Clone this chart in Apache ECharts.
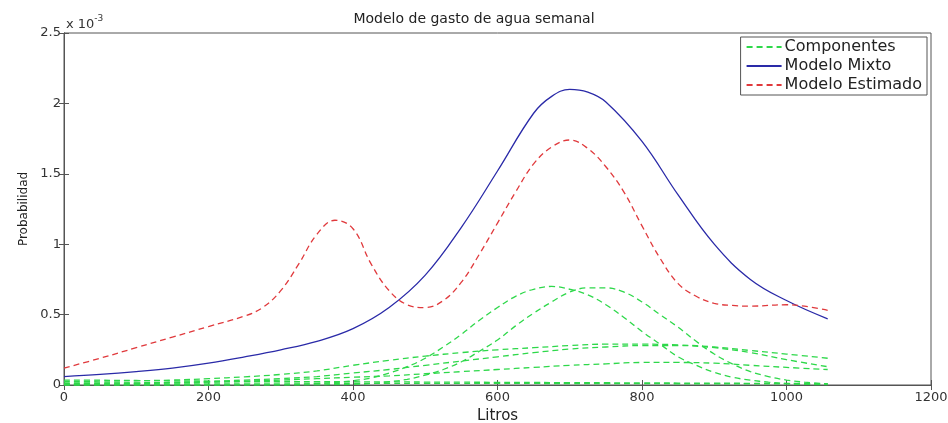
<!DOCTYPE html>
<html lang="es">
<head>
    <meta charset="UTF-8">
    <title>Modelo de gasto de agua semanal</title>
    <script src="https://cdn.jsdelivr.net/npm/echarts@6.0.0/dist/echarts.min.js"></script>
    <style>
        html, body { margin: 0; padding: 0; background: #fff; }
    </style>
</head>
<body>
    <div id="main" style="width: 948px;height:423px;"></div>
    <script>
        // valores en unidades de 10^-3
        const xTicks = [0, 200, 400, 600, 800, 1000, 1200];
        const yTicks = [0, 0.5, 1, 1.5, 2, 2.5];

        // componentes anchas (eje x comun)
        const xComp = [0, 50, 100, 150, 200, 250, 300, 350, 400, 450, 500, 550, 600, 650, 700, 750, 800, 850, 900, 950, 1000, 1057];
        const compC = [0.025, 0.027, 0.03, 0.035, 0.045, 0.058, 0.075, 0.10, 0.14, 0.175, 0.205, 0.23, 0.25, 0.265, 0.28, 0.29, 0.29, 0.285, 0.27, 0.245, 0.22, 0.19];
        const compD = [0.01, 0.012, 0.015, 0.02, 0.025, 0.035, 0.045, 0.06, 0.085, 0.11, 0.14, 0.17, 0.20, 0.23, 0.255, 0.27, 0.28, 0.28, 0.265, 0.23, 0.18, 0.13];
        const compE = [0.005, 0.007, 0.01, 0.015, 0.02, 0.027, 0.035, 0.045, 0.055, 0.065, 0.08, 0.095, 0.11, 0.125, 0.14, 0.15, 0.16, 0.16, 0.155, 0.14, 0.125, 0.11];
        const compF = [0.035, 0.034, 0.032, 0.03, 0.028, 0.026, 0.025, 0.024, 0.023, 0.022, 0.021, 0.02, 0.019, 0.018, 0.017, 0.016, 0.015, 0.014, 0.013, 0.012, 0.011, 0.01];
        const compG = [0.015, 0.015, 0.014, 0.014, 0.014, 0.013, 0.013, 0.013, 0.012, 0.012, 0.012, 0.011, 0.011, 0.011, 0.010, 0.010, 0.010, 0.009, 0.009, 0.009, 0.008, 0.008];

        // componentes con pico (eje x mas fino)
        const xPico = [0, 200, 300, 350, 400, 425, 450, 475, 500, 525, 550, 575, 600, 625, 650, 675, 700, 725, 750, 775, 800, 825, 850, 875, 900, 925, 950, 975, 1000, 1025, 1057];
        const compA = [0, 0, 0.003, 0.01, 0.03, 0.05, 0.085, 0.13, 0.19, 0.27, 0.36, 0.46, 0.55, 0.63, 0.68, 0.70, 0.68, 0.64, 0.57, 0.48, 0.38, 0.29, 0.20, 0.14, 0.09, 0.055, 0.035, 0.02, 0.01, 0.005, 0.002];
        const compB = [0, 0, 0, 0.001, 0.005, 0.01, 0.023, 0.04, 0.07, 0.11, 0.165, 0.24, 0.32, 0.42, 0.51, 0.59, 0.66, 0.69, 0.69, 0.66, 0.59, 0.50, 0.41, 0.31, 0.22, 0.15, 0.095, 0.06, 0.035, 0.02, 0.008];

        // modelo mixto
        const xMixto = [0, 50, 100, 150, 200, 250, 300, 350, 400, 450, 500, 550, 600, 650, 675, 700, 725, 750, 800, 850, 900, 950, 1000, 1057];
        const mixto = [0.06, 0.075, 0.095, 0.12, 0.155, 0.20, 0.25, 0.31, 0.40, 0.55, 0.78, 1.12, 1.52, 1.93, 2.05, 2.10, 2.08, 2.01, 1.73, 1.35, 1.00, 0.75, 0.60, 0.47];

        // modelo estimado
        const xEstimado = [0, 50, 100, 150, 200, 250, 275, 300, 325, 350, 375, 400, 425, 450, 475, 500, 525, 550, 575, 600, 625, 650, 675, 700, 725, 750, 775, 800, 825, 850, 875, 900, 925, 950, 1000, 1025, 1057];
        const estimado = [0.12, 0.19, 0.265, 0.34, 0.415, 0.49, 0.55, 0.67, 0.86, 1.07, 1.17, 1.11, 0.86, 0.67, 0.57, 0.55, 0.60, 0.73, 0.93, 1.15, 1.37, 1.57, 1.69, 1.74, 1.68, 1.55, 1.37, 1.13, 0.90, 0.72, 0.63, 0.58, 0.565, 0.56, 0.57, 0.56, 0.53];

        const FONT = 'DejaVu Sans';
        const GREEN = '#2ed84a';
        const BLUE = '#2a2aa8';
        const RED = '#e0393c';

        const pairs = (xs, ys) => xs.map((x, i) => [x, ys[i]]);

        var chartDom = document.getElementById('main');
        var myChart = echarts.init(chartDom);

        const compSeries = [[xPico, compA], [xPico, compB], [xComp, compC], [xComp, compD], [xComp, compE], [xComp, compF], [xComp, compG]].map(c => ({
            name: 'Componentes',
            type: 'line',
            smooth: 0.4,
            showSymbol: false,
            symbol: 'none',
            data: pairs(c[0], c[1]),
            lineStyle: { color: GREEN, width: 1.3, type: [6, 4] },
            itemStyle: { color: GREEN },
            z: 2
        }));

        const axisLine = { show: true, lineStyle: { color: '#555', width: 1 } };
        const axisTick = { show: true, inside: true, length: 5, lineStyle: { color: '#555' } };

        var option = {
            animation: false,
            title: {
                text: 'Modelo de gasto de agua semanal',
                left: 'center',
                top: 7,
                textStyle: { fontFamily: FONT, fontSize: 14, fontWeight: 'normal', color: '#222' }
            },
            grid: {
                left: 64, right: 17, top: 33, bottom: 38,
                containLabel: false,
                outerBoundsMode: 'none',
                show: true, borderColor: '#555', borderWidth: 1
            },
            legend: {
                data: ['Componentes', 'Modelo Mixto', 'Modelo Estimado'],
                orient: 'vertical',
                right: 21,
                top: 37,
                align: 'left',
                selectedMode: false,
                backgroundColor: '#fff',
                borderColor: '#555',
                borderWidth: 1,
                borderRadius: 0,
                padding: [2, 5, 2, 5],
                itemWidth: 35,
                itemHeight: 15,
                itemGap: 3,
                itemStyle: { opacity: 0 },
                textStyle: { fontFamily: FONT, fontSize: 16, color: '#222', padding: [0, 0, 0, -2] }
            },
            xAxis: [{
                type: 'value',
                gridIndex: 0,
                min: 0, max: 1200, interval: 200,
                name: 'Litros',
                nameLocation: 'middle',
                nameGap: 22,
                nameTextStyle: { fontFamily: FONT, fontSize: 15, color: '#222' },
                axisLine: axisLine,
                axisTick: axisTick,
                splitLine: { show: false },
                axisLabel: { fontFamily: FONT, fontSize: 13, color: '#333', margin: 6, formatter: v => String(v) }
            }, {
                type: 'value',
                gridIndex: 0,
                show: true,
                position: 'top',
                min: 0, max: 1200, interval: 200,
                axisLine: axisLine,
                axisTick: axisTick,
                splitLine: { show: false },
                axisLabel: { show: false }
            }],
            yAxis: [{
                type: 'value',
                gridIndex: 0,
                min: 0, max: 2.5, interval: 0.5,
                name: 'Probabilidad',
                nameLocation: 'middle',
                nameGap: 34,
                nameTextStyle: { fontFamily: FONT, fontSize: 12, color: '#222' },
                axisLine: axisLine,
                axisTick: axisTick,
                splitLine: { show: false },
                axisLabel: { fontFamily: FONT, fontSize: 13, color: '#333', margin: 3 }
            }, {
                type: 'value',
                gridIndex: 0,
                show: true,
                position: 'right',
                min: 0, max: 2.5, interval: 0.5,
                axisLine: axisLine,
                axisTick: axisTick,
                splitLine: { show: false },
                axisLabel: { show: false }
            }],
            graphic: [{
                type: 'text',
                left: 66,
                top: 14,
                style: {
                    text: '{a|x 10}{b|-3}',
                    rich: {
                        a: { fontFamily: FONT, fontSize: 13, fill: '#333', verticalAlign: 'bottom' },
                        b: { fontFamily: FONT, fontSize: 9, fill: '#333', verticalAlign: 'top', padding: [0, 0, 8, 0] }
                    }
                }
            }],
            series: compSeries.concat([{
                name: 'Modelo Mixto',
                type: 'line',
                smooth: 0.4,
                showSymbol: false,
                symbol: 'none',
                data: pairs(xMixto, mixto),
                lineStyle: { color: BLUE, width: 1.3 },
                itemStyle: { color: BLUE },
                z: 3
            }, {
                name: 'Modelo Estimado',
                type: 'line',
                smooth: 0.4,
                showSymbol: false,
                symbol: 'none',
                data: pairs(xEstimado, estimado),
                lineStyle: { color: RED, width: 1.3, type: [6, 4] },
                itemStyle: { color: RED },
                z: 3
            }, {
                // serie invisible para que se dibujen los ejes superior y derecho
                name: 'ejes',
                type: 'line',
                xAxisIndex: 1,
                yAxisIndex: 1,
                data: [[0, 0], [1200, 2.5]],
                showSymbol: false,
                symbol: 'none',
                lineStyle: { opacity: 0 },
                silent: true
            }])
        };

        myChart.setOption(option);
    </script>
</body>
</html>
